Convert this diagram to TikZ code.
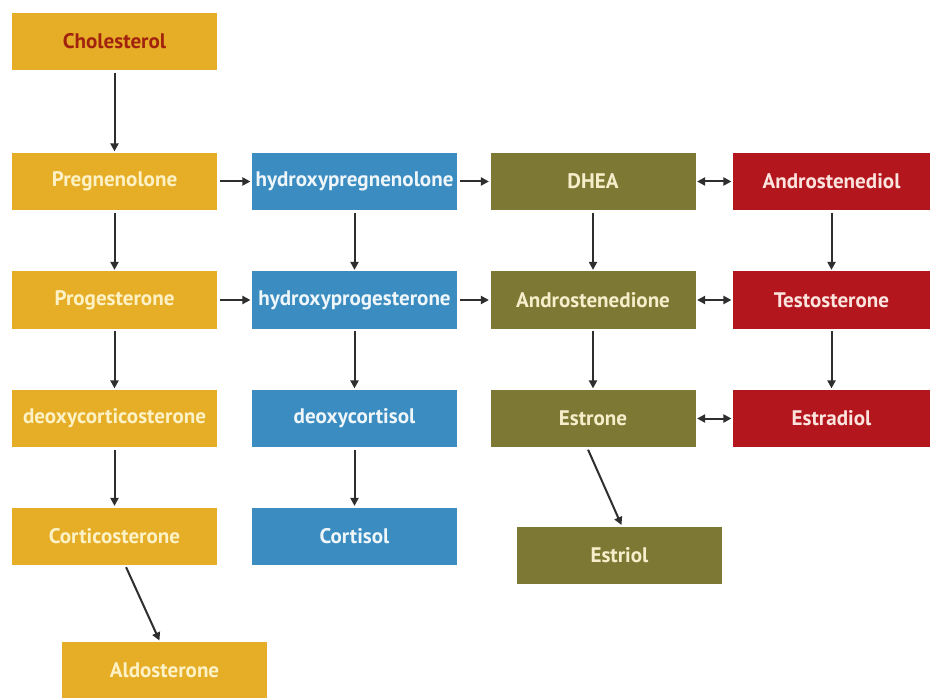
\documentclass[tikz,border=0pt]{standalone}
\usepackage{fontspec}
\setmainfont{PT Sans}
\usetikzlibrary{arrows.meta,calc}
\definecolor{gold}{HTML}{E6AE27}
\definecolor{bluebox}{HTML}{3B8CC0}
\definecolor{olive}{HTML}{7D7935}
\definecolor{redbox}{HTML}{B3161D}
\definecolor{goldtxt}{HTML}{FDF1C6}
\definecolor{bluetxt}{HTML}{EEF6FA}
\definecolor{olivetxt}{HTML}{F6EECB}
\definecolor{redtxt}{HTML}{FBE3DE}
\definecolor{choltxt}{HTML}{A1230F}
\definecolor{arrcol}{HTML}{2E2E2E}
\tikzset{
  box/.style={rectangle, minimum width=205*0.75pt, minimum height=57*0.75pt, inner sep=0pt,
    font=\bfseries\fontsize{15.8}{18}\selectfont},
  goldbox/.style={box, fill=gold, text=goldtxt},
  bluebx/.style={box, fill=bluebox, text=bluetxt},
  olivebox/.style={box, fill=olive, text=olivetxt},
  redbx/.style={box, fill=redbox, text=redtxt, minimum width=197*0.75pt},
  arr/.style={draw=arrcol, line width=1.5pt, -{Triangle[length=6pt,width=6pt]}, shorten >=1pt, shorten <=2pt},
  darr/.style={draw=arrcol, line width=1.5pt, {Triangle[length=6pt,width=6pt]}-{Triangle[length=6pt,width=6pt]}, shorten >=1pt, shorten <=1pt}
}
\begin{document}
\begin{tikzpicture}[x=0.75pt,y=-0.75pt]
\useasboundingbox[fill=white] (0,0) rectangle (930,698);
% column 1
\node[goldbox, text=choltxt] (chol) at (114.5,41.5) {Cholesterol};
\node[goldbox] (preg) at (114.5,181.5) {Pregnenolone};
\node[goldbox] (prog) at (114.5,300) {Progesterone};
\node[goldbox] (doc) at (114.5,418.5) {deoxycorticosterone};
\node[goldbox] (cort) at (114.5,536) {Corticosterone};
\node[goldbox] (aldo) at (164.5,670.5) {Aldosterone};
% column 2
\node[bluebx] (hpreg) at (354.5,181.5) {hydroxypregnenolone};
\node[bluebx] (hprog) at (354.5,300) {hydroxyprogesterone};
\node[bluebx] (dcol) at (354.5,418.5) {deoxycortisol};
\node[bluebx] (cortisol) at (354.5,536) {Cortisol};
% column 3
\node[olivebox] (dhea) at (593,181.5) {DHEA};
\node[olivebox] (adione) at (593,300) {Androstenedione};
\node[olivebox] (estrone) at (593,418.5) {Estrone};
\node[olivebox] (estriol) at (619.5,555) {Estriol};
% column 4
\node[redbx] (adiol) at (831.5,181.5) {Androstenediol};
\node[redbx] (testo) at (831.5,300) {Testosterone};
\node[redbx] (estradiol) at (831.5,418.5) {Estradiol};
% vertical arrows
\draw[arr] (chol) -- (preg);
\draw[arr] (preg) -- (prog);
\draw[arr] (prog) -- (doc);
\draw[arr] (doc) -- (cort);
\draw[arr] (hpreg) -- (hprog);
\draw[arr] (hprog) -- (dcol);
\draw[arr] (dcol) -- (cortisol);
\draw[arr] (dhea) -- (adione);
\draw[arr] (adione) -- (estrone);
\draw[arr] (adiol) -- (testo);
\draw[arr] (testo) -- (estradiol);
% horizontal arrows
\draw[arr] (preg) -- (hpreg);
\draw[arr] (hpreg) -- (dhea);
\draw[arr] (prog) -- (hprog);
\draw[arr] (hprog) -- (adione);
\draw[darr] (dhea) -- (adiol);
\draw[darr] (adione) -- (testo);
\draw[darr] (estrone) -- (estradiol);
% diagonal arrows
\draw[arr] ($(cort.south)+(10.5,0)$) -- ($(aldo.north)+(-4.5,0)$);
\draw[arr] ($(estrone.south)+(-6,0)$) -- ($(estriol.north)+(2.5,0)$);
\end{tikzpicture}
\end{document}
